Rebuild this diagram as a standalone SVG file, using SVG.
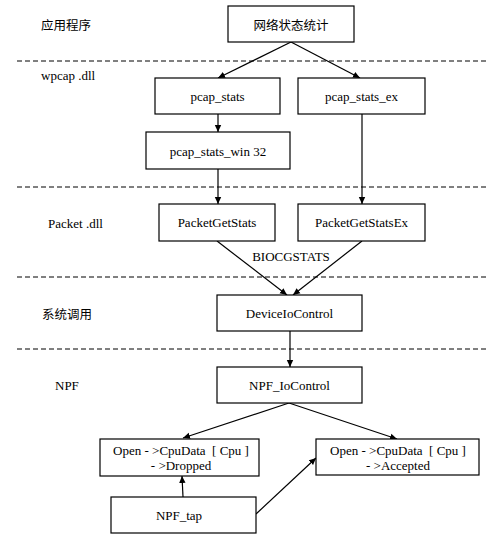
<svg xmlns="http://www.w3.org/2000/svg" width="501" height="541" viewBox="0 0 501 541">
<defs>
<marker id="ah" markerWidth="8" markerHeight="8" refX="7" refY="4" orient="auto" markerUnits="userSpaceOnUse">
<path d="M0,0.8 L7,4 L0,7.2 Z" fill="#000"/>
</marker>
<style>
.box{fill:#fff;stroke:#000;stroke-width:1.2}
text{font-family:'Liberation Serif','Times New Roman',serif;font-size:13px;fill:#000}
.t{text-anchor:middle;dominant-baseline:central}
.lab{dominant-baseline:central}
.cn{font-family:'Noto Sans CJK SC',sans-serif;font-size:12.5px}
.dash{stroke:#000;stroke-width:1;stroke-dasharray:5,3;fill:none}
.c{stroke:#000;stroke-width:1.2;fill:none;marker-end:url(#ah)}
</style>
</defs>
<rect width="501" height="541" fill="#fff"/>
<g id="layers">
<line class="dash" x1="17" y1="61" x2="489" y2="61"/>
<line class="dash" x1="17" y1="187" x2="489" y2="187"/>
<line class="dash" x1="17" y1="277" x2="489" y2="277"/>
<line class="dash" x1="17" y1="349" x2="489" y2="349"/>
<text class="lab cn" x="41" y="24">应用程序</text>
<text class="lab" x="41" y="75">wpcap .dll</text>
<text class="lab" x="48" y="223">Packet .dll</text>
<text class="lab cn" x="42" y="313">系统调用</text>
<text class="lab" x="55" y="385">NPF</text>
</g>
<g id="connectors">
<line class="c" x1="291" y1="42" x2="218" y2="78"/>
<line class="c" x1="291" y1="42" x2="360" y2="78"/>
<line class="c" x1="218" y1="114" x2="218" y2="132"/>
<line class="c" x1="218" y1="169" x2="218" y2="204"/>
<line class="c" x1="362" y1="114" x2="362" y2="204"/>
<line class="c" x1="217" y1="241" x2="287" y2="295"/>
<line class="c" x1="362" y1="241" x2="293" y2="295"/>
<line class="c" x1="290" y1="331" x2="290" y2="367"/>
<line class="c" x1="289" y1="403" x2="183" y2="438"/>
<line class="c" x1="289" y1="403" x2="397" y2="439"/>
<line class="c" x1="183" y1="497" x2="182" y2="476"/>
<line class="c" x1="256" y1="514" x2="316" y2="458"/>
<text class="t" x="291" y="256">BIOCGSTATS</text>
</g>
<g id="n_app"><rect class="box" x="228" y="6" width="126" height="36"/><text class="t cn" x="291" y="24">网络状态统计</text></g>
<g id="n_pcap_stats"><rect class="box" x="155" y="78" width="125" height="36"/><text class="t" x="217.5" y="96">pcap_stats</text></g>
<g id="n_pcap_stats_ex"><rect class="box" x="298" y="78" width="127" height="36"/><text class="t" x="361.5" y="96">pcap_stats_ex</text></g>
<g id="n_pcap_stats_win32"><rect class="box" x="146" y="132" width="144" height="37"/><text class="t" x="218" y="151">pcap_stats_win 32</text></g>
<g id="n_PacketGetStats"><rect class="box" x="159" y="204" width="116" height="37"/><text class="t" x="217" y="222">PacketGetStats</text></g>
<g id="n_PacketGetStatsEx"><rect class="box" x="298" y="204" width="127" height="37"/><text class="t" x="361.5" y="222">PacketGetStatsEx</text></g>
<g id="n_DeviceIoControl"><rect class="box" x="217" y="295" width="145" height="36"/><text class="t" x="289.5" y="313">DeviceIoControl</text></g>
<g id="n_NPF_IoControl"><rect class="box" x="217" y="367" width="145" height="36"/><text class="t" x="289.5" y="385">NPF_IoControl</text></g>
<g id="n_dropped"><rect class="box" x="100" y="439" width="159" height="37"/><text class="t" x="181" y="450">Open - &gt;CpuData &#160;[ Cpu ]</text><text class="t" x="181" y="465">- &gt;Dropped</text></g>
<g id="n_accepted"><rect class="box" x="316" y="439" width="163" height="36"/><text class="t" x="398" y="450">Open - &gt;CpuData &#160;[ Cpu ]</text><text class="t" x="398" y="465">- &gt;Accepted</text></g>
<g id="n_NPF_tap"><rect class="box" x="111" y="497" width="145" height="36"/><text class="t" x="179" y="515">NPF_tap</text></g>
</svg>
